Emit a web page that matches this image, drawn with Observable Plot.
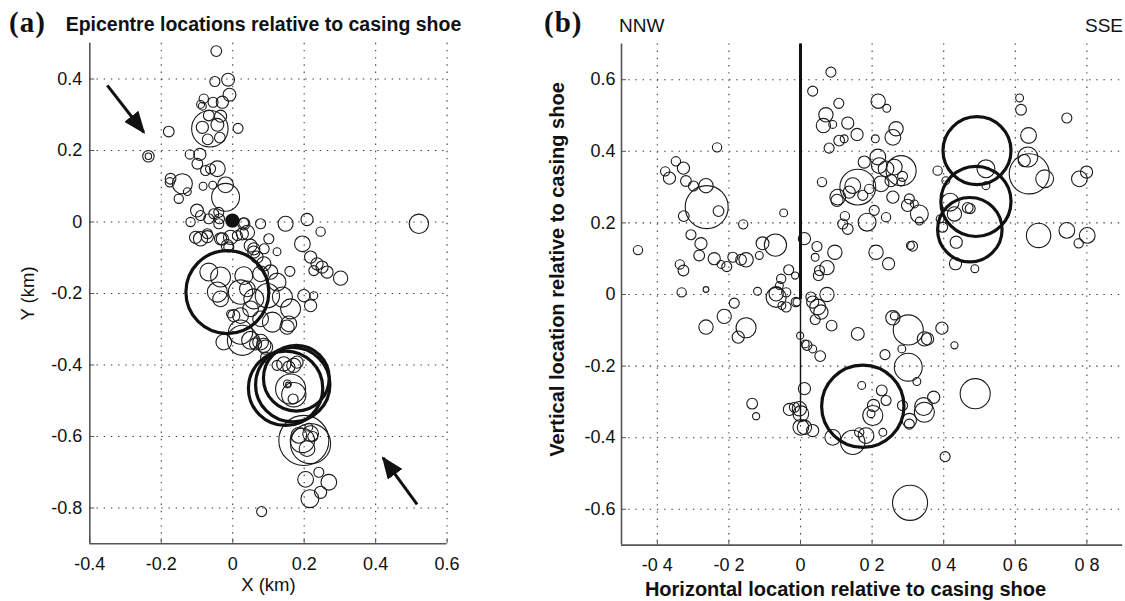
<!DOCTYPE html>
<html><head><meta charset="utf-8">
<script src="https://cdn.jsdelivr.net/npm/d3@7"></script>
<script src="https://cdn.jsdelivr.net/npm/@observablehq/plot@0.6"></script>
<style>
body{margin:0;background:#fff;width:1125px;height:601px;position:relative;overflow:hidden;font-family:"Liberation Sans",Arial,sans-serif;}
#a,#b{position:absolute;top:0}
#a{left:0px} #b{left:520px}
.t{position:absolute;white-space:nowrap;color:#111;line-height:1}
.pl{font-family:"Liberation Serif","Times New Roman",serif;font-weight:bold;font-size:29px;letter-spacing:1px}
</style></head><body>
<div id="a"></div><div id="b"></div>
<div class="t pl" style="left:9px;top:7.5px">(a)</div>
<div class="t" style="left:65.7px;top:15.2px;font-size:19.5px;font-weight:bold">Epicentre locations relative to casing shoe</div>
<div class="t pl" style="left:544px;top:7.5px">(b)</div>
<div class="t" style="left:619px;top:16.2px;font-size:19px">NNW</div>
<div class="t" style="right:2px;top:16.2px;font-size:19px">SSE</div>
<script>
// ---------- Panel (a): epicentres, [x km, y km, source radius m] ----------
const xDomA = [-0.4, 0.6], yDomA = [-0.9, 0.5];
const xTicksA = [-0.4, -0.2, 0, 0.2, 0.4, 0.6];
const xTickLabelsA = ["-0.4", "-0.2", "0", "0.2", "0.4", "0.6"];
const yTicksA = [-0.8, -0.6, -0.4, -0.2, 0, 0.2, 0.4];
const yTickLabelsA = ["-0.8", "-0.6", "-0.4", "-0.2", "0", "0.2", "0.4"];
const thinA = [
[-0.046,0.478,15],[-0.050,0.393,14],[-0.013,0.398,18],[-0.009,0.356,18],[-0.029,0.335,17],
[-0.055,0.335,14],[-0.081,0.345,13],[-0.090,0.329,11],[-0.085,0.324,11],[-0.064,0.261,51],
[-0.067,0.298,15],[-0.034,0.296,17],[-0.085,0.265,17],[-0.043,0.272,18],[-0.070,0.231,15],
[-0.036,0.236,15],[0.015,0.262,14],[-0.179,0.253,15],[-0.236,0.184,16],[-0.236,0.184,9],
[-0.120,0.189,13],[-0.092,0.189,17],[-0.099,0.163,15],[-0.076,0.144,14],[-0.062,0.149,14],
[-0.043,0.149,22],[-0.174,0.121,15],[-0.176,0.111,13],[-0.141,0.107,28],[-0.151,0.065,13],
[-0.127,0.085,11],[-0.083,0.100,11],[-0.056,0.103,11],[-0.020,0.104,22],[-0.020,0.069,39],
[-0.100,0.032,18],[-0.090,0.018,14],[-0.118,0.000,13],[-0.067,0.009,14],[-0.039,0.027,14],
[-0.039,-0.005,14],[0.031,-0.005,17],[0.078,-0.005,14],[0.148,-0.005,21],[0.208,0.007,17],
[0.246,-0.027,13],[-0.090,-0.047,20],[-0.104,-0.043,17],[-0.071,-0.033,14],[-0.029,-0.047,17],
[0.013,-0.038,14],[0.041,-0.029,20],[-0.015,-0.066,17],[0.050,-0.066,18],[0.101,-0.047,14],
[0.124,-0.083,11],[0.195,-0.061,22],[0.218,-0.098,17],[0.236,-0.117,17],[0.250,-0.126,17],
[0.264,-0.140,17],[0.227,-0.136,14],[0.302,-0.157,20],[0.160,-0.138,14],[0.059,-0.084,17],
[0.068,-0.098,17],[0.087,-0.117,20],[-0.067,-0.140,25],[-0.034,-0.154,28],[0.031,-0.150,25],
[0.078,-0.145,22],[0.106,-0.140,20],[0.124,-0.168,25],[-0.043,-0.196,28],[-0.034,-0.215,22],
[0.022,-0.196,34],[0.041,-0.187,22],[0.059,-0.215,28],[0.097,-0.206,34],[0.139,-0.210,28],
[0.162,-0.243,28],[0.199,-0.206,17],[0.218,-0.234,17],[0.227,-0.206,11],[0.003,-0.262,17],
[0.022,-0.262,22],[0.050,-0.243,22],[0.078,-0.271,22],[0.111,-0.280,28],[0.157,-0.285,22],
[0.022,-0.308,34],[-0.025,-0.336,22],[0.050,-0.331,25],[0.078,-0.336,22],[0.092,-0.350,20],
[-0.006,-0.257,11],[0.027,-0.331,42],[0.064,-0.341,17],[0.087,-0.345,20],[0.124,-0.401,14],
[0.143,-0.397,20],[0.157,-0.406,17],[0.171,-0.401,20],[0.180,-0.392,17],[0.092,-0.378,14],
[0.162,-0.467,42],[0.153,-0.453,11],[0.155,-0.455,7],[0.171,-0.483,34],[0.169,-0.495,14],
[0.199,-0.611,70],[0.218,-0.620,56],[0.185,-0.597,22],[0.213,-0.574,11],[0.218,-0.592,22],
[0.195,-0.611,34],[0.208,-0.634,22],[0.224,-0.600,14],[0.204,-0.720,22],[0.241,-0.700,14],
[0.269,-0.728,22],[0.246,-0.756,17],[0.216,-0.774,25],[0.081,-0.810,14],[0.521,-0.005,27],
[-0.071,-0.041,17],[-0.053,0.023,14],[-0.037,0.009,14],[-0.034,-0.047,17],[-0.006,-0.043,20],
[0.027,-0.033,17],[0.031,-0.003,14],[-0.011,-0.070,14],[0.059,-0.075,17],[0.088,-0.075,14],
[0.152,-0.294,20]
];
const thickA = [[-0.015,-0.196,116],[0.148,-0.465,104],[0.168,-0.455,104],[0.178,-0.437,92]];
const filledA = [[-0.001,0.004,18]];
const arrowsA = [[-0.351,0.382,-0.249,0.251],[0.516,-0.790,0.421,-0.660]];

// ---------- Panel (b): cross-section, [horizontal km, vertical km, source radius m] ----------
const xDomB = [-0.5, 0.9], yDomB = [-0.7, 0.7];
const xTicksB = [-0.4, -0.2, 0, 0.2, 0.4, 0.6, 0.8];
const xTickLabelsB = ["-0 4", "-0 2", "0", "0 2", "0 4", "0 6", "0 8"];
const yTicksB = [-0.6, -0.4, -0.2, 0, 0.2, 0.4, 0.6];
const yTickLabelsB = ["-0.6", "-0.4", "-0.2", "0", "0.2", "0.4", "0.6"];
const thinB = [
[-0.233,0.411,13],[-0.348,0.372,13],[-0.378,0.344,13],[-0.366,0.325,17],[-0.327,0.353,17],
[-0.320,0.317,15],[-0.299,0.303,14],[-0.264,0.304,20],[-0.262,0.244,60],[-0.229,0.233,15],
[-0.326,0.219,15],[-0.160,0.196,13],[-0.047,0.228,11],[-0.306,0.167,14],[-0.278,0.142,17],
[-0.106,0.143,18],[-0.070,0.138,31],[-0.454,0.124,13],[-0.283,0.109,15],[-0.241,0.100,17],
[-0.222,0.084,11],[-0.206,0.078,14],[-0.189,0.104,14],[-0.166,0.097,15],[-0.152,0.097,20],
[-0.115,0.109,11],[-0.337,0.084,13],[-0.327,0.067,15],[-0.332,0.006,13],[-0.264,0.014,8],
[-0.120,0.009,11],[-0.033,0.069,14],[-0.015,0.053,10],[-0.054,0.044,13],[-0.059,0.025,11],
[-0.068,0.002,20],[-0.068,-0.008,28],[-0.040,0.006,13],[-0.040,-0.035,14],[-0.052,-0.031,11],
[-0.013,-0.021,13],[-0.185,-0.024,14],[-0.213,-0.061,20],[-0.152,-0.093,28],[-0.174,-0.119,17],
[-0.264,-0.091,20],[-0.001,-0.115,10],[-0.135,-0.305,15],[-0.124,-0.340,10],[-0.031,-0.321,17],
[-0.003,-0.319,20],[0.001,-0.333,22],[0.001,-0.371,22],[0.011,-0.263,17],[0.013,-0.138,11],
[0.085,0.621,14],[0.034,0.568,14],[0.107,0.534,14],[0.071,0.502,20],[0.064,0.472,20],
[0.090,0.475,11],[0.132,0.479,17],[0.158,0.447,17],[0.108,0.430,15],[0.122,0.435,11],
[0.080,0.409,14],[0.217,0.540,20],[0.241,0.520,11],[0.209,0.435,11],[0.267,0.463,20],
[0.258,0.439,22],[0.060,0.314,13],[0.383,0.346,13],[0.178,0.370,17],[0.216,0.384,22],
[0.220,0.360,22],[0.239,0.351,22],[0.262,0.356,22],[0.281,0.346,42],[0.160,0.300,50],
[0.146,0.304,22],[0.136,0.286,17],[0.104,0.272,22],[0.102,0.263,17],[0.174,0.277,14],
[0.192,0.295,13],[0.225,0.309,22],[0.253,0.318,17],[0.285,0.330,14],[0.281,0.314,11],
[0.258,0.272,17],[0.206,0.235,14],[0.239,0.216,13],[0.304,0.267,14],[0.299,0.249,17],
[0.318,0.253,11],[0.332,0.225,25],[0.332,0.205,11],[0.186,0.202,25],[0.124,0.219,13],
[0.118,0.197,14],[0.132,0.183,15],[0.011,0.156,17],[0.046,0.134,14],[0.096,0.118,20],
[0.211,0.118,20],[0.307,0.137,11],[0.518,0.351,25],[0.518,0.304,11],[0.406,0.318,11],
[0.418,0.258,25],[0.430,0.225,20],[0.467,0.242,15],[0.474,0.240,14],[0.390,0.211,11],
[0.397,0.188,14],[0.435,0.146,17],[0.612,0.549,11],[0.616,0.516,15],[0.637,0.444,22],
[0.635,0.384,28],[0.625,0.374,17],[0.639,0.337,56],[0.665,0.165,34],[0.744,0.493,14],
[0.779,0.323,22],[0.799,0.342,17],[0.744,0.179,22],[0.777,0.143,13],[0.801,0.165,22],
[0.682,0.323,25],[0.487,0.072,11],[0.433,0.086,17],[0.313,0.135,14],[0.246,0.086,17],
[0.041,0.104,11],[0.074,0.075,20],[0.053,0.067,14],[0.050,0.053,14],[0.074,0.000,20],
[0.029,-0.007,14],[0.034,-0.021,17],[0.048,-0.035,22],[0.057,-0.049,20],[0.041,-0.070,14],
[0.087,-0.087,15],[-0.010,-0.021,11],[0.018,-0.142,14],[0.034,-0.152,11],[0.055,-0.172,15],
[0.160,-0.110,18],[0.258,-0.065,20],[0.262,-0.060,11],[0.301,-0.099,42],[0.346,-0.124,20],
[0.355,-0.124,17],[0.395,-0.094,17],[0.430,-0.142,10],[0.283,-0.152,11],[0.236,-0.168,14],
[0.301,-0.203,39],[0.325,-0.243,11],[0.171,-0.254,11],[0.227,-0.268,15],[0.239,-0.296,14],
[0.204,-0.310,17],[0.197,-0.333,11],[0.202,-0.338,28],[0.230,-0.385,11],[0.164,-0.385,13],
[0.183,-0.394,22],[0.146,-0.413,34],[0.090,-0.399,22],[0.285,-0.310,14],[0.304,-0.352,20],
[0.304,-0.362,14],[0.344,-0.313,25],[0.346,-0.329,28],[0.372,-0.287,17],[0.488,-0.277,42],
[0.404,-0.453,14],[0.306,-0.582,49],[0.011,-0.371,20],[0.034,-0.380,17],[-0.017,-0.315,14]
];
const thickB = [[0.493,0.402,95],[0.490,0.260,98],[0.473,0.181,90],[0.174,-0.312,115]];
const wellUpper = [[0, 0.7, -0.015]];
const wellLower = [[0, -0.015, -0.357]];

const FONT = "'Liberation Sans', Arial, sans-serif";
const gridStyle = {stroke: "#3a3a3a", strokeOpacity: 1, strokeWidth: 1.1, strokeDasharray: "1.4,5.8"};
const spine = {stroke: "#555", strokeWidth: 1.6};
const px = d => d[0], py = d => d[1], pr = d => d[2];

function addArrowHeads(svg) {
  const ns = "http://www.w3.org/2000/svg";
  const defs = document.createElementNS(ns, "defs");
  const m = document.createElementNS(ns, "marker");
  m.setAttribute("id", "ahead"); m.setAttribute("viewBox", "0 0 10 8");
  m.setAttribute("refX", "9"); m.setAttribute("refY", "4");
  m.setAttribute("markerWidth", "7.5"); m.setAttribute("markerHeight", "6");
  m.setAttribute("orient", "auto"); m.setAttribute("markerUnits", "strokeWidth");
  const p = document.createElementNS(ns, "path");
  p.setAttribute("d", "M0,0L10,4L0,8Z"); p.setAttribute("fill", "#111");
  m.appendChild(p); defs.appendChild(m); svg.insertBefore(defs, svg.firstChild);
  svg.querySelectorAll('g[aria-label="link"] path').forEach(e => e.setAttribute("marker-end", "url(#ahead)"));
}

const plotA = Plot.plot({
  width: 470, height: 601,
  marginLeft: 89.3, marginRight: 23.4, marginTop: 42.75, marginBottom: 57.75,
  x: {domain: xDomA}, y: {domain: yDomA},
  r: {type: "linear", domain: [0, 100], range: [0, 35.75]},
  style: {fontFamily: FONT, fontSize: "18px", color: "#111", background: "transparent", overflow: "visible"},
  marks: [
    Plot.gridX(xTicksA.slice(1), gridStyle),
    Plot.gridY(yTicksA, gridStyle),
    Plot.ruleX([xDomA[0]], spine),
    Plot.ruleY([yDomA[0]], spine),
    Plot.axisX(xTicksA, {tickFormat: d => xTickLabelsA[xTicksA.indexOf(d)], tickSize: -5, tickPadding: 18, label: null, stroke: "#555"}),
    Plot.axisY(yTicksA, {tickFormat: d => yTickLabelsA[yTicksA.indexOf(d)], tickSize: -5, tickPadding: 12.5, label: null, stroke: "#555"}),
    Plot.dot(thinA, {x: px, y: py, r: pr, stroke: "#1a1a1a", strokeWidth: 1.1, fill: "none"}),
    Plot.dot(thickA, {x: px, y: py, r: pr, stroke: "#111", strokeWidth: 3.2, fill: "none"}),
    Plot.dot(filledA, {x: px, y: py, r: pr, fill: "#111", stroke: "#111"}),
    Plot.link(arrowsA, {x1: d => d[0], y1: d => d[1], x2: d => d[2], y2: d => d[3], stroke: "#111", strokeWidth: 3}),
    Plot.text(["X (km)"], {frameAnchor: "bottom", lineAnchor: "middle", textAnchor: "middle", dy: 41.5, text: d => d, fontSize: 18.5, fill: "#111"}),
    Plot.text(["Y (km)"], {frameAnchor: "left", lineAnchor: "middle", textAnchor: "middle", dx: -62.2, rotate: -90, text: d => d, fontSize: 18.5, fill: "#111"})
  ]
});
addArrowHeads(plotA);
document.getElementById("a").appendChild(plotA);

const plotB = Plot.plot({
  width: 605, height: 601,
  marginLeft: 101, marginRight: 2.8, marginTop: 43.4, marginBottom: 56.4,
  x: {domain: xDomB}, y: {domain: yDomB},
  r: {type: "linear", domain: [0, 100], range: [0, 35.8]},
  style: {fontFamily: FONT, fontSize: "18px", color: "#111", background: "transparent", overflow: "visible"},
  marks: [
    Plot.gridX(xTicksB, gridStyle),
    Plot.gridY(yTicksB, gridStyle),
    Plot.ruleX([xDomB[0]], spine),
    Plot.ruleY([yDomB[0]], spine),
    Plot.axisX(xTicksB, {tickFormat: d => xTickLabelsB[xTicksB.indexOf(d)], tickSize: -5, tickPadding: 18, label: null, stroke: "#555"}),
    Plot.axisY(yTicksB, {tickFormat: d => yTickLabelsB[yTicksB.indexOf(d)], tickSize: -5, tickPadding: 11, label: null, stroke: "#555"}),
    Plot.ruleX(wellUpper, {x: d => d[0], y1: d => d[1], y2: d => d[2], stroke: "#111", strokeWidth: 3}),
    Plot.ruleX(wellLower, {x: d => d[0], y1: d => d[1], y2: d => d[2], stroke: "#111", strokeWidth: 1.4}),
    Plot.dot(thinB, {x: px, y: py, r: pr, stroke: "#1a1a1a", strokeWidth: 1.1, fill: "none"}),
    Plot.dot(thickB, {x: px, y: py, r: pr, stroke: "#111", strokeWidth: 3.2, fill: "none"}),
    Plot.text(["Horizontal location relative to casing shoe"], {frameAnchor: "bottom", lineAnchor: "middle", textAnchor: "middle", dx: -26.6, dy: 44, text: d => d, fontSize: 20, fontWeight: "bold", fill: "#111"}),
    Plot.text(["Vertical location relative to casing shoe"], {frameAnchor: "left", lineAnchor: "middle", textAnchor: "middle", dx: -64.4, dy: -25, rotate: -90, text: d => d, fontSize: 20, fontWeight: "bold", fill: "#111"})
  ]
});
document.getElementById("b").appendChild(plotB);
</script>
</body></html>
